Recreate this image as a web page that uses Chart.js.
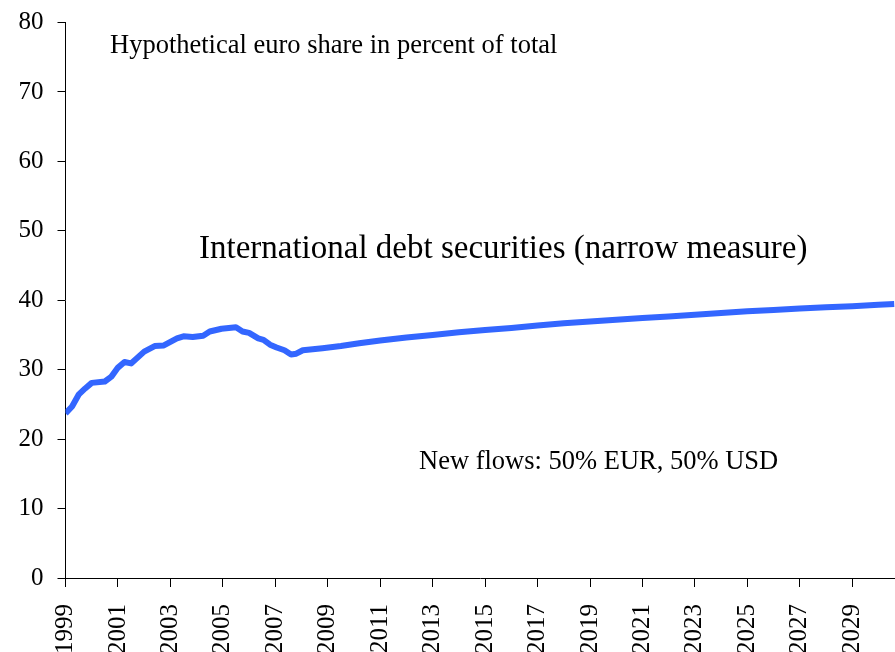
<!DOCTYPE html>
<html>
<head>
<meta charset="utf-8">
<script src="https://cdn.jsdelivr.net/npm/chart.js@4"></script>
<style>
  html, body { margin: 0; padding: 0; background: #fff; overflow: hidden; }
  #wrap { position: relative; width: 895px; height: 670px; }
</style>
</head>
<body>
<div id="wrap"><canvas id="euroChart"></canvas></div>
<script>
    "use strict";

    const FONT = "'Liberation Serif', 'Times New Roman', serif";
    const LINE = "rgb(51,102,255)";

    // years (fractional = quarters) and euro share
    const years = [
        1999.0, 1999.25, 1999.5, 1999.75, 2000.0, 2000.5, 2000.75, 2001.0, 2001.25, 2001.5,
        2002.0, 2002.4, 2002.75, 2003.25, 2003.5, 2003.85, 2004.25, 2004.5, 2004.95, 2005.5,
        2005.75, 2006.0, 2006.35, 2006.55, 2006.8, 2007.05, 2007.35, 2007.6, 2007.8, 2008.05,
        2008.8, 2009.5, 2010.2, 2011, 2012, 2013, 2014, 2015, 2016, 2017, 2018, 2019, 2020,
        2021, 2022, 2023, 2024, 2025, 2026, 2027, 2028, 2029, 2030, 2030.6
    ];
    const euroShare = [
        23.7, 24.7, 26.4, 27.3, 28.1, 28.3, 29.0, 30.3, 31.1, 30.9,
        32.6, 33.4, 33.5, 34.5, 34.8, 34.7, 34.9, 35.5, 35.9, 36.1,
        35.5, 35.3, 34.5, 34.3, 33.6, 33.2, 32.8, 32.2, 32.3, 32.8,
        33.1, 33.4, 33.8, 34.2, 34.65, 35.0, 35.4, 35.7, 36.0, 36.35, 36.7, 36.95, 37.2,
        37.45, 37.65, 37.9, 38.15, 38.4, 38.6, 38.8, 39.0, 39.15, 39.35, 39.45
    ];
    const xTicks = [1999, 2001, 2003, 2005, 2007, 2009, 2011, 2013, 2015, 2017, 2019, 2021, 2023, 2025, 2027, 2029];
    const yTicks = [0, 10, 20, 30, 40, 50, 60, 70, 80];

    const notes = [
        { text: "Hypothetical euro share in percent of total", x: 110, y: 53, size: 26.5 },
        { text: "International debt securities (narrow measure)", x: 199, y: 258, size: 33 },
        { text: "New flows: 50% EUR, 50% USD", x: 419, y: 469, size: 26.5 }
    ];

    /* ── free-standing chart captions ── */
    const notesPlugin = {
        id: "notes",
        afterDraw(chart) {
            const c = chart.ctx;
            c.save();
            c.fillStyle = "#000";
            c.textBaseline = "alphabetic";
            c.textAlign = "left";
            notes.forEach(n => {
                c.font = `${n.size}px ${FONT}`;
                c.fillText(n.text, n.x, n.y);
            });
            c.restore();
        }
    };

    new Chart(document.getElementById("euroChart"), {
        type: "line",
        data: {
            datasets: [{
                label: "Euro share",
                data: years.map((y, i) => ({ x: y, y: euroShare[i] })),
                borderColor: LINE, borderWidth: 6, pointRadius: 0,
                tension: 0, fill: false, borderJoinStyle: "round"
            }]
        },
        options: {
            responsive: true, maintainAspectRatio: false, animation: false,
            layout: { padding: { top: 22.5, right: 0, left: 0, bottom: 0 } },
            plugins: { legend: { display: false }, tooltip: { enabled: false } },
            scales: {
                x: {
                    type: "linear", min: 1999, max: 2030.63,
                    afterBuildTicks: s => { s.ticks = xTicks.map(v => ({ value: v })); },
                    afterFit: s => { s.height = 92; s.paddingLeft = 0; s.paddingRight = 0; },
                    ticks: {
                        color: "#000", font: { family: FONT, size: 25 }, padding: 17,
                        minRotation: 90, maxRotation: 90, autoSkip: false,
                        callback: v => String(v)
                    },
                    grid: { drawOnChartArea: false, drawTicks: true, tickLength: 9, color: "#000" },
                    border: { display: true, color: "#000", width: 1 }
                },
                y: {
                    min: 0, max: 80,
                    afterBuildTicks: s => { s.ticks = yTicks.map(v => ({ value: v })); },
                    afterFit: s => { s.width = 65.5; s.paddingTop = 0; s.paddingBottom = 0; },
                    ticks: { color: "#000", font: { family: FONT, size: 25 }, padding: 14 },
                    grid: { drawOnChartArea: false, drawTicks: true, tickLength: 8, color: "#000" },
                    border: { display: true, color: "#000", width: 1 }
                }
            }
        },
        plugins: [notesPlugin]
    });
</script>
</body>
</html>
